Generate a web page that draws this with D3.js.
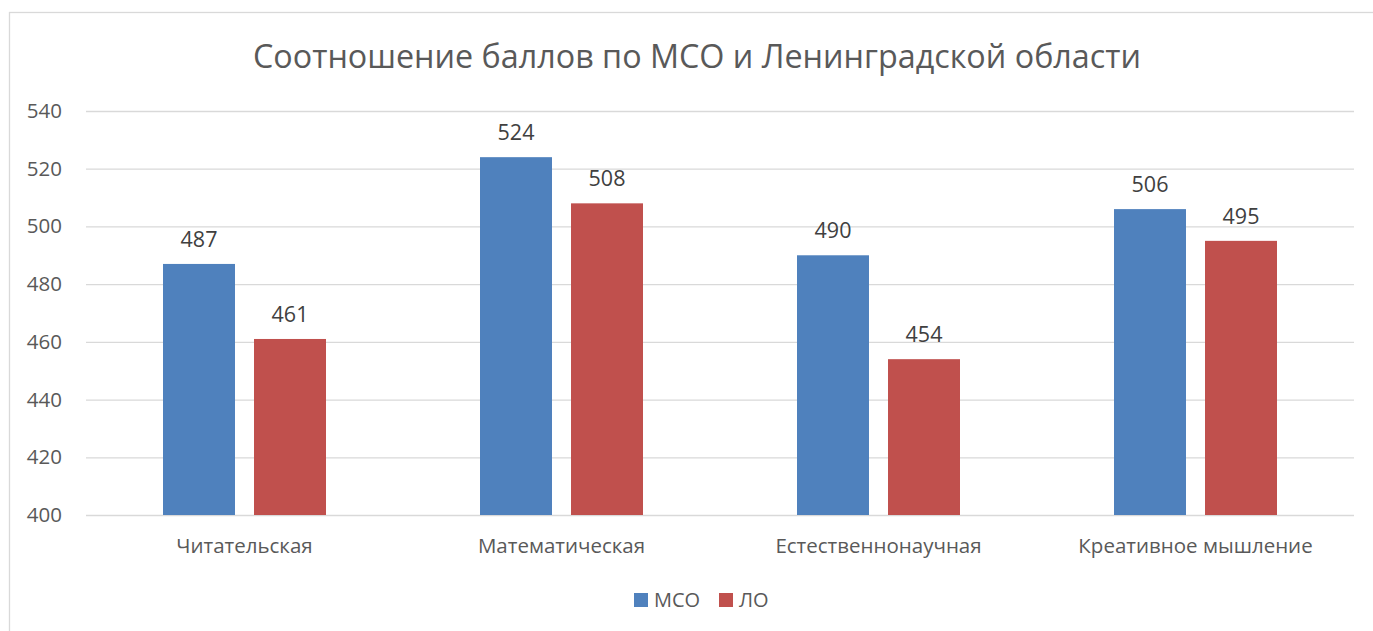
<!DOCTYPE html>
<html><head><meta charset="utf-8">
<script src="https://cdn.jsdelivr.net/npm/d3@7"></script>
<style>body{margin:0;background:#fff;} svg{display:block;font-family:"Open Sans",sans-serif;}</style>
</head><body>
<svg id="c" width="1373" height="631"></svg>
<script>
const title = "Соотношение баллов по МСО и Ленинградской области";
const categories = ["Читательская","Математическая","Естественнонаучная","Креативное мышление"];
const seriesNames = ["МСО","ЛО"];
const mcoValues = [487,524,490,506];
const loValues = [461,508,454,495];
const yTicks = [400,420,440,460,480,500,520,540];
const colors = ["#4f81bd","#c0504d"];

const svg = d3.select("#c");
svg.append("rect").attr("x",9.5).attr("y",12.5).attr("width",1370).attr("height",640)
  .attr("fill","#fff").attr("stroke","#d9d9d9").attr("stroke-width",1.3);

const L=86,R=1354,T=111,B=515;
const y = d3.scaleLinear().domain([400,540]).range([B,T]);
const x0 = d3.scaleBand().domain(categories).range([L,R]);
const x1 = d3.scaleBand().domain(seriesNames).range([77,240]).paddingInner(0.209).paddingOuter(0);

const yAxis = svg.append("g").attr("transform",`translate(${L},0)`)
  .call(d3.axisLeft(y).tickValues(yTicks).tickSize(-(R-L)).tickPadding(24).tickFormat(d3.format("d")));
yAxis.select(".domain").remove();
yAxis.selectAll("line").attr("stroke","#d9d9d9").attr("stroke-width",1.3);
yAxis.selectAll("text").attr("fill","#595959").attr("font-size",20.5).attr("font-family","Open Sans");

const data = categories.map((c,i)=>({cat:c, vals:[mcoValues[i],loValues[i]]}));
const g = svg.append("g");
data.forEach(d=>{
  d.vals.forEach((v,j)=>{
    const s=seriesNames[j];
    g.append("rect").attr("x",x0(d.cat)+x1(s)).attr("y",y(v)).attr("width",x1.bandwidth())
      .attr("height",y(400)-y(v)).attr("fill",colors[j]);
    g.append("text").attr("x",x0(d.cat)+x1(s)+x1.bandwidth()/2).attr("y",y(v)-17)
      .attr("text-anchor","middle").attr("fill","#404040").attr("font-size",21.5).text(v);
  });
});

const xAxis = svg.append("g").attr("transform",`translate(0,${B})`)
  .call(d3.axisBottom(x0).tickSize(0).tickPadding(23.4));
xAxis.select(".domain").remove();
xAxis.selectAll("text").attr("fill","#595959").attr("font-size",20.5).attr("font-family","Open Sans");

svg.append("text").attr("x",697).attr("y",68).attr("text-anchor","middle")
  .attr("fill","#595959").attr("font-size",32.3).text(title);

const leg = svg.append("g");
const legX=[634,719];
seriesNames.forEach((s,j)=>{
  leg.append("rect").attr("x",legX[j]).attr("y",593).attr("width",14).attr("height",14).attr("fill",colors[j]);
  leg.append("text").attr("x",legX[j]+20).attr("y",607).attr("fill","#595959").attr("font-size",20).text(s);
});
</script>
</body></html>
